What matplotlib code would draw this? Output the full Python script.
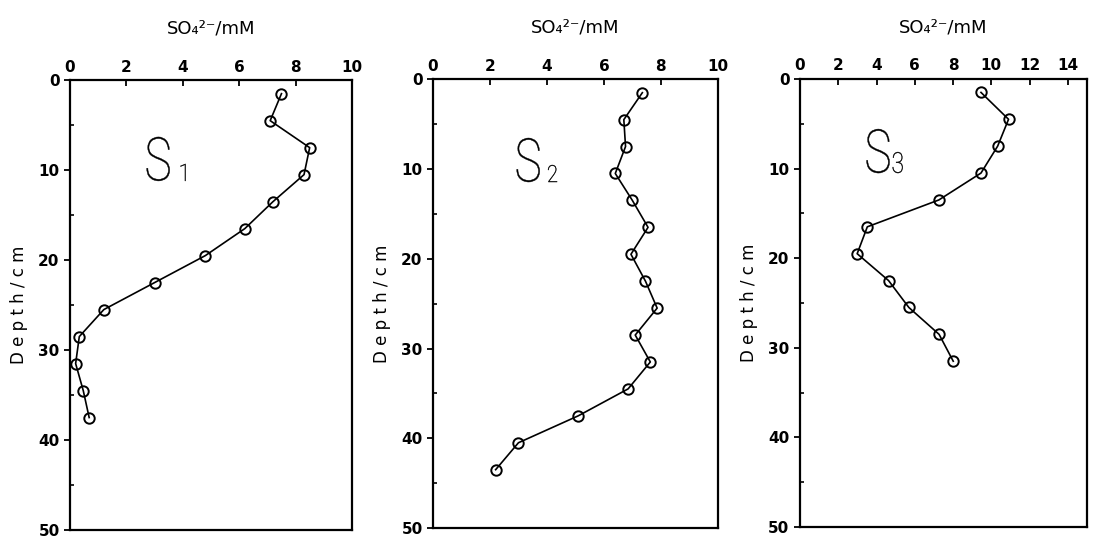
import matplotlib.pyplot as plt
from matplotlib.ticker import MultipleLocator
from matplotlib.textpath import TextPath
from matplotlib.patches import PathPatch
from matplotlib.font_manager import FontProperties
from matplotlib.transforms import Affine2D, IdentityTransform

# depth (cm) and sulfate (mM) read from the three cores
depth_s1 = [1.5, 4.5, 7.5, 10.5, 13.5, 16.5, 19.5, 22.5, 25.5, 28.5, 31.5, 34.5, 37.5]
so4_s1 = [7.5, 7.1, 8.5, 8.3, 7.2, 6.2, 4.8, 3.0, 1.2, 0.33, 0.2, 0.47, 0.68]

depth_s2 = [1.5, 4.5, 7.5, 10.5, 13.5, 16.5, 19.5, 22.5, 25.5, 28.5, 31.5, 34.5, 37.5, 40.5, 43.5]
so4_s2 = [7.35, 6.7, 6.76, 6.4, 7.0, 7.55, 6.95, 7.46, 7.87, 7.1, 7.63, 6.85, 5.1, 3.0, 2.2]

depth_s3 = [1.5, 4.5, 7.5, 10.5, 13.5, 16.5, 19.5, 22.5, 25.5, 28.5, 31.5]
so4_s3 = [9.46, 10.9, 10.33, 9.46, 7.26, 3.52, 2.99, 4.63, 5.69, 7.27, 8.01]

subs = ["1", "2", "3"]
xmax = [10, 10, 15]
xticks = [[0, 2, 4, 6, 8, 10], [0, 2, 4, 6, 8, 10], [0, 2, 4, 6, 8, 10, 12, 14]]

fig = plt.figure(figsize=(11.04, 5.42), dpi=100)
rects = [[0.0634, 0.0221, 0.2554, 0.830],
         [0.3922, 0.0258, 0.2580, 0.828],
         [0.7246, 0.0277, 0.2600, 0.8266]]
# station label boxes: (S left, S bottom, sub left), sizes in pixels
s_pos = [(0.272, 0.776, 0.392), (0.294, 0.771, 0.404), (0.232, 0.79, 0.323)]
sub_size = [(5, 17), (9, 17), (10, 21)]

thin = FontProperties(family=["Roboto", "DejaVu Sans"], weight="light")


def glyph(ax, s, fx, fy, w, h):
    # draw a glyph squeezed into a w x h pixel box at axes fraction (fx, fy)
    tp = TextPath((0, 0), s, size=100, prop=thin)
    bb = tp.get_extents()
    px, py = ax.transAxes.transform((fx, fy))
    tr = (Affine2D().translate(-bb.x0, -bb.y0)
          .scale(w / bb.width, h / bb.height).translate(px, py))
    ax.add_artist(PathPatch(tr.transform_path(tp), transform=IdentityTransform(),
                            color="black", lw=0.3))


data = [(so4_s1, depth_s1), (so4_s2, depth_s2), (so4_s3, depth_s3)]

for i, (x, y) in enumerate(data):
    ax = fig.add_axes(rects[i])
    ax.plot(x, y, color="black", lw=1.2, marker="o", ms=7.5,
            mfc="none", mec="black", mew=1.4)
    ax.set_xlim(0, xmax[i])
    ax.set_ylim(50, 0)
    ax.xaxis.tick_top()
    ax.xaxis.set_label_position("top")
    ax.set_xticks(xticks[i])
    ax.set_yticks([0, 10, 20, 30, 40, 50])
    ax.yaxis.set_minor_locator(MultipleLocator(5))
    ax.tick_params(axis="x", direction="in", length=4, width=1.3, pad=4,
                   labelsize=11)
    ax.tick_params(axis="y", which="major", direction="out", length=4,
                   width=1.3, labelsize=11)
    ax.tick_params(axis="y", which="minor", direction="in", length=3, width=1.2)
    for lab in ax.get_xticklabels() + ax.get_yticklabels():
        lab.set_fontweight("bold")
    for sp in ax.spines.values():
        sp.set_linewidth(1.6)
    ax.set_xlabel("SO\u2084\u00b2\u207b/mM", fontsize=13, labelpad=19)
    ax.set_ylabel("D e p t h / c m", fontsize=12, labelpad=7)
    sx, sy, nx = s_pos[i]
    glyph(ax, "S", sx, sy, 23, 44)
    glyph(ax, subs[i], nx, sy, *sub_size[i])

fig.savefig("out.png", dpi=100)
